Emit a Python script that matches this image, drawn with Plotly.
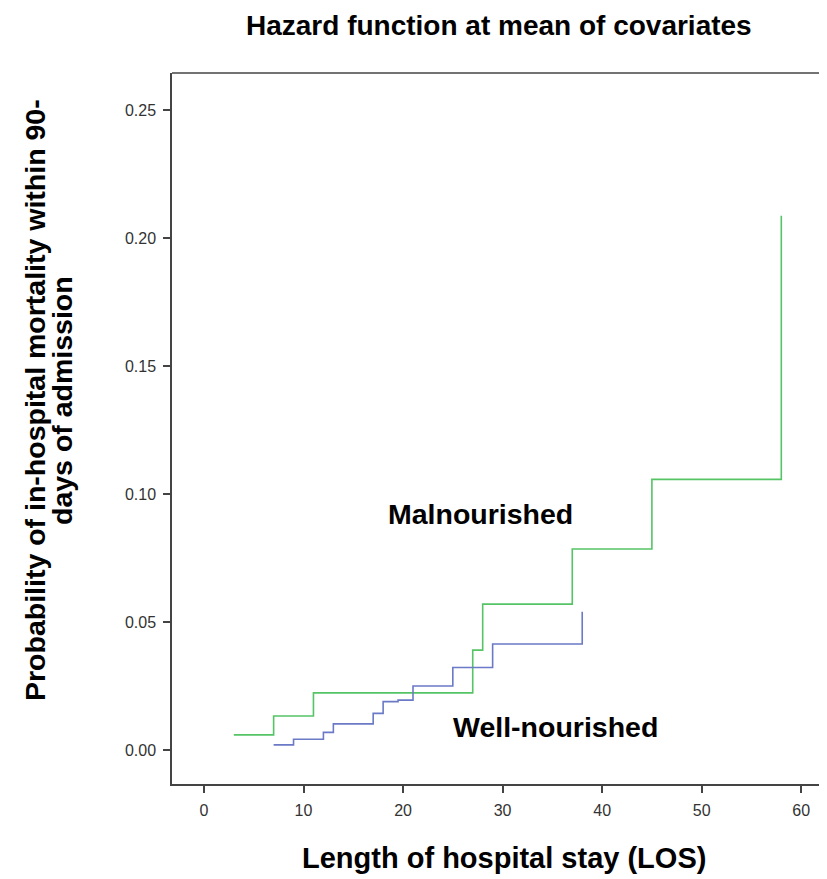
import plotly.graph_objects as go

# Data
mal_los = [3, 7, 11, 27, 28, 37, 45, 58]
mal_haz = [0.0059, 0.0133, 0.0223, 0.0390, 0.0570, 0.0785, 0.1057, 0.2087]

well_los = [7, 9, 12, 13, 17, 18, 19.5, 21, 25, 29, 38]
well_haz = [0.0020, 0.0042, 0.0069, 0.0102, 0.0143, 0.0189, 0.0195, 0.0250, 0.0322, 0.0414, 0.0540]

x_ticks = [0, 10, 20, 30, 40, 50, 60]
y_ticks = [0.00, 0.05, 0.10, 0.15, 0.20, 0.25]

FONT = "Liberation Sans, Arial, sans-serif"
AXC = "#444444"

# page offset from the browser's default body margin
OFF = 8
PL, PR, PT, PB = 172, 827, 73, 784  # plot box in page pixels

fig = go.Figure()
fig.add_trace(go.Scatter(x=mal_los, y=mal_haz, mode="lines", line_shape="hv",
                         line=dict(color="#55c465", width=1.6), name="Malnourished",
                         showlegend=False))
fig.add_trace(go.Scatter(x=well_los, y=well_haz, mode="lines", line_shape="hv",
                         line=dict(color="#6b7ac6", width=1.6), name="Well-nourished",
                         showlegend=False))

W, H = 827 - OFF, 879 - OFF
fig.update_layout(
    width=W, height=H,
    margin=dict(l=PL - OFF, r=W - (PR - OFF), t=PT - OFF, b=H - (PB - OFF), pad=0),
    plot_bgcolor="white", paper_bgcolor="white",
    font=dict(family=FONT, color="#333333"),
)
fig.update_xaxes(range=[-3.21, 62.59], tickvals=x_ticks, ticks="outside", ticklen=7,
                 tickwidth=1.5, tickcolor=AXC, showline=True, linecolor=AXC, linewidth=1.5,
                 showgrid=False, zeroline=False, ticklabelstandoff=4,
                 tickfont=dict(size=16, color="#333333"))
fig.update_yaxes(range=[-0.01328, 0.26445], tickvals=y_ticks, tickformat=".2f",
                 ticks="outside", ticklen=7, tickwidth=1.5, tickcolor=AXC, showline=True,
                 linecolor=AXC, linewidth=1.5, showgrid=False, zeroline=False,
                 ticklabelstandoff=4, tickfont=dict(size=16, color="#333333"))

# top border of the frame
fig.add_shape(type="line", xref="paper", yref="paper", x0=0, x1=1, y0=1, y1=1,
              line=dict(color=AXC, width=1.5))

def px_x(p):
    return (p - PL) / (PR - PL)

def px_y(p):
    return (PB - p) / (PB - PT)

anns = [
    dict(text="<b>Hazard function at mean of covariates</b>", x=px_x(499), y=px_y(OFF + 1),
         size=28, angle=0, ya="top"),
    dict(text="<b>Length of hospital stay (LOS)</b>", x=px_x(504), y=px_y(858), size=29, angle=0, ya="middle"),
    dict(text="<b>Probability of in-hospital mortality within 90-</b>",
         x=px_x(35), y=px_y(400), size=28.5, angle=-90, ya="middle"),
    dict(text="<b>days of admission</b>",
         x=px_x(62), y=px_y(401), size=28.5, angle=-90, ya="middle"),
    dict(text="<b>Malnourished</b>", x=px_x(480), y=px_y(514), size=28.5, angle=0, ya="middle"),
    dict(text="<b>Well-nourished</b>", x=px_x(555), y=px_y(727), size=28.5, angle=0, ya="middle"),
]
for a in anns:
    fig.add_annotation(text=a["text"], x=a["x"], y=a["y"], xref="paper", yref="paper",
                       xanchor="center", yanchor=a["ya"], showarrow=False, borderpad=0,
                       textangle=a["angle"], font=dict(family=FONT, size=a["size"], color="black"))

fig.write_html("out.html")
